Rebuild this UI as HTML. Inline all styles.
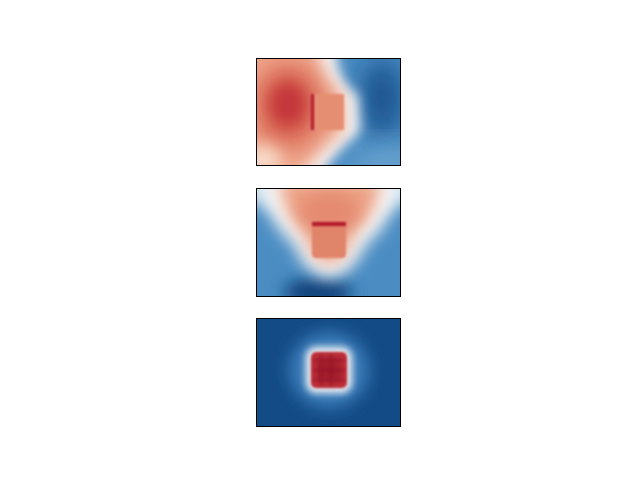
<!DOCTYPE html>
<html><head><meta charset="utf-8"><style>
html,body{margin:0;padding:0;background:#fff;}
svg{display:block;}
</style></head><body>
<svg width="640" height="480" viewBox="0 0 640 480">
<defs>
<filter id="b14" x="-50%" y="-50%" width="200%" height="200%"><feGaussianBlur stdDeviation="14"/></filter>
<filter id="b8" x="-50%" y="-50%" width="200%" height="200%"><feGaussianBlur stdDeviation="8"/></filter>
<filter id="b6" x="-50%" y="-50%" width="200%" height="200%"><feGaussianBlur stdDeviation="6"/></filter>
<filter id="b4" x="-50%" y="-50%" width="200%" height="200%"><feGaussianBlur stdDeviation="4"/></filter>
<filter id="b1" x="-50%" y="-50%" width="200%" height="200%"><feGaussianBlur stdDeviation="1"/></filter>
<clipPath id="c1"><rect x="256" y="58" width="145" height="108"/></clipPath>
<clipPath id="c2"><rect x="256" y="188" width="145" height="109"/></clipPath>
<clipPath id="c3"><rect x="256" y="318" width="145" height="109"/></clipPath>
</defs>

<g clip-path="url(#c1)">
  <rect x="256" y="58" width="145" height="108" fill="#4a8cc2"/>
  <ellipse cx="382" cy="98" rx="20" ry="40" fill="#154f8c" filter="url(#b14)"/>
  <ellipse cx="390" cy="165" rx="40" ry="18" fill="#6aa3cf" filter="url(#b14)"/>
  <path d="M240,40 L336,40 Q334,80 358,95 L360,132 Q336,150 318,180 L240,180 Z" fill="#f7f7f7" filter="url(#b6)"/>
  <path d="M240,40 L318,40 Q318,80 342,92 L344,132 Q322,145 298,180 L240,180 Z" fill="#f0aa8e" filter="url(#b8)"/>
  <ellipse cx="288" cy="106" rx="34" ry="42" fill="#d6604d" filter="url(#b14)"/>
  <ellipse cx="288" cy="104" rx="18" ry="22" fill="#c4343a" filter="url(#b8)"/>
  <ellipse cx="262" cy="160" rx="20" ry="14" fill="#f8dccb" filter="url(#b8)"/>
  <rect x="312" y="94" width="32" height="36" fill="#e58e72" filter="url(#b1)"/>
  <rect x="311" y="94" width="3" height="36" fill="#b2182b" filter="url(#b1)"/>
</g>
<rect x="256.5" y="58.5" width="144" height="107" fill="none" stroke="#000" stroke-width="1"/>

<g clip-path="url(#c2)">
  <rect x="256" y="188" width="145" height="109" fill="#4b8dc3"/>
  <ellipse cx="318" cy="292" rx="34" ry="14" fill="#0d3f78" filter="url(#b8)"/>
  <ellipse cx="330" cy="190" rx="95" ry="22" fill="#cfe3f0" filter="url(#b8)"/>
  <path d="M262,180 L398,180 Q395,222 366,244 Q352,276 329,278 Q306,276 294,244 Q265,222 262,180 Z" fill="#f7f7f7" filter="url(#b8)"/>
  <path d="M280,180 L380,180 Q378,214 354,232 Q346,262 329,264 Q312,262 304,232 Q282,214 280,180 Z" fill="#eca083" filter="url(#b8)"/>
  <ellipse cx="329" cy="212" rx="30" ry="20" fill="#e48a71" filter="url(#b8)"/>
  <rect x="312" y="223" width="34" height="35" rx="4" fill="#e0846a" filter="url(#b1)"/>
  <rect x="312" y="222" width="34" height="4" fill="#b2182b" filter="url(#b1)"/>
</g>
<rect x="256.5" y="188.5" width="144" height="108" fill="none" stroke="#000" stroke-width="1"/>

<g clip-path="url(#c3)">
  <rect x="256" y="318" width="145" height="109" fill="#134b86"/>
  <ellipse cx="329" cy="370" rx="40" ry="38" fill="#3b7dba" filter="url(#b8)"/>
  <rect x="306" y="347" width="46" height="46" rx="10" fill="#f7f7f7" filter="url(#b4)"/>
  <rect x="311" y="352" width="36" height="36" rx="5" fill="#c0313a" filter="url(#b1)"/>
  <rect x="316" y="357" width="26" height="26" rx="3" fill="#a11a2c" filter="url(#b4)"/>
  <g fill="#8f0f25" opacity="0.5" filter="url(#b1)">
    <rect x="313" y="359" width="32" height="2"/>
    <rect x="313" y="369" width="32" height="2"/>
    <rect x="313" y="379" width="32" height="2"/>
    <rect x="320" y="354" width="2" height="32"/>
    <rect x="330" y="354" width="2" height="32"/>
  </g>
</g>
<rect x="256.5" y="318.5" width="144" height="108" fill="none" stroke="#000" stroke-width="1"/>
</svg>
</body></html>
